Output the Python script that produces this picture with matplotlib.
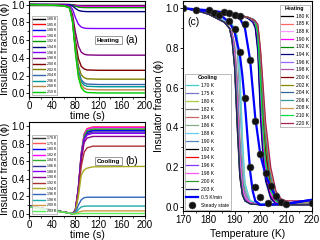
import matplotlib
matplotlib.use("Agg")
import matplotlib.pyplot as plt

plt.rcParams['font.family'] = ['Liberation Sans', 'DejaVu Sans']
plt.rcParams['axes.linewidth'] = 0.8

# ---------------- panel (a): heating, phi vs time ----------------
heat_t = [0, 30, 60, 70, 75, 80, 85, 90, 95, 100, 120, 200]
heat_labels = ['180 K', '185 K', '188 K', '190 K', '192 K', '194 K', '196 K',
               '198 K', '200 K', '202 K', '204 K', '206 K', '208 K', '210 K']
heat_phi = [
    [1.0, 1.0, 1.0, 1.0, 1.0, 1.0, 1.0, 1.0, 1.0, 1.0, 1.0, 1.0],
    [1.0, 1.0, 1.0, .999, .997, .992, .988, .986, .985, .985, .985, .985],
    [1.0, 1.0, 1.0, .999, .996, .989, .984, .981, .98, .98, .98, .98],
    [1.0, 1.0, 1.0, .999, .995, .986, .98, .977, .976, .975, .975, .975],
    [1.0, 1.0, .999, .999, .993, .981, .971, .967, .966, .965, .965, .965],
    [1.0, 1.0, .999, .997, .984, .956, .934, .925, .922, .92, .92, .92],
    [1.0, .999, .996, .989, .946, .852, .779, .746, .735, .731, .73, .73],
    [1.0, .997, .991, .977, .886, .687, .533, .464, .441, .433, .43, .43],
    [1.0, .996, .989, .970, .852, .593, .393, .304, .275, .264, .26, .26],
    [1.0, .996, .987, .966, .832, .538, .311, .210, .177, .164, .16, .16],
    [1.0, .996, .987, .964, .82, .505, .262, .154, .118, .105, .1, .1],
    [1.0, .995, .986, .963, .815, .491, .242, .131, .094, .080, .075, .075],
    [1.0, .995, .986, .962, .808, .472, .213, .098, .059, .045, .04, .04],
    [1.0, .995, .985, .960, .801, .453, .184, .065, .025, .01, .005, .005],
]
heat_colors = ['#000000', '#ff0000', '#0000ff', '#ff00ff', '#009900', '#000080',
               '#8000ff', '#800080', '#800000', '#808000', '#3366aa', '#009999',
               '#c08040', '#00cc00']

# ---------------- panel (b): cooling, phi vs time ----------------
cool_t = [0, 40, 70, 75, 80, 85, 90, 95, 100, 110, 200]
cool_labels = ['170 K', '175 K', '180 K', '182 K', '184 K', '186 K', '188 K',
               '190 K', '192 K', '194 K', '196 K', '198 K', '200 K', '203 K']
cool_phi = [
    [.09, .045, .01, 0, .048, .287, .669, .879, .936, .955, .955],
    [.09, .045, .01, 0, .05, .297, .693, .911, .970, .99, .99],
    [.09, .045, .01, 0, .047, .284, .662, .869, .926, .945, .945],
    [.09, .045, .01, 0, .049, .294, .686, .902, .960, .98, .98],
    [.09, .045, .01, 0, .048, .29, .676, .888, .946, .965, .965],
    [.09, .045, .01, 0, .047, .279, .651, .856, .911, .93, .93],
    [.09, .045, .01, 0, .046, .275, .641, .842, .897, .915, .915],
    [.09, .045, .01, 0, .044, .264, .616, .81, .862, .88, .88],
    [.088, .044, .01, 0, .04, .23, .54, .70, .75, .77, .77],
    [.085, .043, .01, 0, .03, .2, .44, .50, .52, .535, .54],
    [.085, .043, .01, 0, .02, .1, .16, .185, .19, .19, .19],
    [.085, .043, .01, 0, .01, .05, .08, .088, .09, .09, .09],
    [.08, .04, .01, 0, .005, .02, .03, .035, .035, .035, .035],
    [.08, .04, .008, 0, 0, .003, .005, .005, .005, .005, .005],
]
cool_colors = ['#333333', '#ff5555', '#0000ff', '#ff00ff', '#33aa33', '#333399',
               '#8800ff', '#880088', '#aa3333', '#aaaa22', '#3366bb', '#22aaaa',
               '#cc9944', '#55ee55']

# ---------------- panel (c): phi vs temperature ----------------
c_heat_T = [170, 180, 190, 195, 197, 198, 199, 200, 201, 202, 204, 206, 208, 210, 220]
c_heat_labels = ['180 K', '185 K', '188 K', '190 K', '192 K', '194 K', '196 K', '198 K',
                 '200 K', '202 K', '204 K', '206 K', '208 K', '210 K', '220 K']
c_heat_phi = [
    [1.0, .985, .97, .955, .94, .91, .8, .5, .28, .15, .05, .02, .01, .01, .01],
    [1.0, .985, .97, .955, .94, .92, .84, .58, .34, .2, .07, .03, .015, .01, .01],
    [1.0, .985, .97, .955, .945, .93, .86, .62, .38, .22, .08, .03, .015, .015, .015],
    [1.0, .985, .97, .955, .94, .92, .82, .55, .3, .17, .06, .02, .01, .01, .01],
    [1.0, .985, .97, .955, .945, .93, .88, .66, .42, .25, .09, .035, .015, .01, .01],
    [1.0, .985, .97, .95, .93, .9, .78, .45, .25, .13, .04, .015, .01, .01, .01],
    [1.0, .985, .97, .955, .945, .93, .87, .64, .4, .23, .08, .03, .015, .01, .01],
    [1.0, .985, .97, .955, .945, .935, .9, .72, .48, .3, .11, .04, .02, .015, .015],
    [1.0, .985, .97, .955, .945, .935, .89, .7, .46, .28, .1, .04, .015, .01, .01],
    [1.0, .985, .97, .955, .945, .935, .9, .74, .52, .33, .13, .05, .02, .01, .01],
    [1.0, .985, .97, .955, .945, .935, .91, .77, .55, .36, .15, .06, .025, .02, .02],
    [1.0, .985, .97, .955, .945, .935, .91, .78, .57, .38, .16, .07, .03, .02, .02],
    [1.0, .985, .97, .955, .945, .935, .91, .79, .6, .4, .18, .07, .03, .02, .02],
    [1.0, .985, .97, .955, .945, .93, .87, .63, .39, .22, .08, .03, .015, .01, .01],
    [1.0, .985, .97, .955, .945, .935, .92, .8, .62, .43, .2, .08, .04, .03, .03],
]
c_heat_colors = ['#000000', '#ff6666', '#ff99ff', '#ff00ff', '#008800', '#000080',
                 '#9966ff', '#aa55aa', '#880000', '#888800', '#336699', '#339999',
                 '#cc9955', '#00dd44', '#aa2255']

c_cool_T = [220, 210, 200, 196, 194, 193, 192, 191, 190, 189, 188, 186, 183, 180, 175, 170]
c_cool_labels = ['170 K', '175 K', '180 K', '182 K', '184 K', '186 K', '188 K',
                 '190 K', '192 K', '194 K', '196 K', '198 K', '200 K', '203 K']
c_cool_phi = [
    [.01, .01, .015, .03, .12, .35, .7, .86, .9, .92, .93, .94, .955, .97, .99, 1.0],
    [.01, .01, .015, .025, .08, .25, .55, .8, .88, .91, .92, .94, .955, .97, .99, 1.0],
    [.01, .01, .015, .03, .1, .3, .62, .83, .89, .91, .925, .94, .955, .97, .99, 1.0],
    [.01, .01, .01, .02, .05, .12, .3, .6, .8, .87, .9, .93, .95, .97, .99, 1.0],
    [.01, .01, .01, .02, .06, .15, .35, .65, .82, .88, .9, .93, .95, .97, .99, 1.0],
    [.01, .01, .01, .02, .05, .12, .28, .55, .78, .86, .9, .93, .95, .97, .99, 1.0],
    [.01, .01, .015, .03, .11, .32, .65, .84, .89, .91, .925, .94, .955, .97, .99, 1.0],
    [.01, .01, .01, .02, .06, .14, .33, .62, .8, .87, .9, .93, .95, .97, .99, 1.0],
    [.01, .01, .01, .015, .03, .06, .15, .4, .7, .84, .9, .93, .95, .97, .99, 1.0],
    [.01, .01, .01, .02, .04, .09, .22, .5, .75, .85, .9, .93, .95, .97, .99, 1.0],
    [.01, .01, .01, .02, .04, .08, .2, .47, .73, .85, .9, .93, .95, .97, .99, 1.0],
    [.01, .01, .01, .02, .05, .1, .25, .52, .76, .86, .9, .93, .95, .97, .99, 1.0],
    [.01, .01, .01, .015, .03, .07, .18, .45, .72, .84, .9, .93, .95, .97, .99, 1.0],
    [.01, .01, .01, .015, .03, .06, .16, .42, .7, .84, .9, .93, .95, .97, .99, 1.0],
]
c_cool_colors = ['#44cccc', '#7777cc', '#aacc44', '#777777', '#cc6666', '#88aa88',
                 '#66ccee', '#5588bb', '#000000', '#ff0000', '#8833ff', '#ff55ee',
                 '#339933', '#222266']

# 0.5 K/min sweep (heating branch then cooling branch)
sweep_heat_T = [170, 180, 188, 192, 194, 196, 198, 200, 202, 204, 206, 208, 210, 215, 220]
sweep_heat_phi = [1.0, .99, .975, .95, .9, .74, .45, .26, .16, .1, .05, .02, .015, .025, .035]
sweep_cool_T = [220, 210, 200, 198, 197, 196, 195, 194, 193, 192, 190, 188, 185, 180, 170]
sweep_cool_phi = [.035, .015, .01, .03, .08, .18, .35, .52, .66, .77, .88, .93, .96, .985, 1.0]

# steady-state points
ss_T = [170, 175, 180, 182, 184, 186, 188, 190, 192, 194, 196, 198, 200, 202, 204, 206,
        208, 210, 220, 203, 200, 198, 196, 194, 192, 190, 188]
ss_phi = [1.0, .99, .99, .978, .966, .983, .978, .966, .961, .92, .74, .43, .265, .168,
          .104, .054, .022, .012, .017, .017, .05, .10, .2, .548, .78, .894, .936]

fig = plt.figure(figsize=(3.2, 2.4), dpi=100)
ax_a = fig.add_axes([0.091, 0.596, 0.362, 0.4])
ax_b = fig.add_axes([0.091, 0.100, 0.362, 0.392])
ax_c = fig.add_axes([0.572, 0.121, 0.403, 0.875])

for phi, c, lab in zip(heat_phi, heat_colors, heat_labels):
    ax_a.plot(heat_t, phi, color=c, lw=1.0, label=lab)
for phi, c, lab in zip(cool_phi, cool_colors, cool_labels):
    ax_b.plot(cool_t, phi, color=c, lw=1.0, label=lab)

for ax, ylim, name, tag in [(ax_a, (-0.04, 1.04), 'Heating', '(a)'),
                            (ax_b, (-0.023, 1.045), 'Cooling', '(b)')]:
    ax.set_xlim(0, 200)
    ax.set_ylim(*ylim)
    ax.set_xticks([0, 40, 80, 120, 160, 200])
    ax.set_xticks(range(20, 200, 40), minor=True)
    ax.set_yticks([0.0, 0.2, 0.4, 0.6, 0.8, 1.0])
    ax.set_yticks([0.1, 0.3, 0.5, 0.7, 0.9], minor=True)
    ax.yaxis.set_major_formatter(matplotlib.ticker.FormatStrFormatter('%.1f'))
    ax.tick_params(labelsize=7, length=2, width=0.6, pad=1)
    ax.tick_params(which='minor', length=1.2, width=0.5)
    ax.set_xlabel('time (s)', fontsize=7.5, labelpad=0)
    ax.set_ylabel('Insulator fraction (ϕ)', fontsize=7.5, labelpad=1)
    ax.text(137, 0.6, name, fontsize=4.5, fontweight='bold', ha='center', va='center',
            bbox=dict(boxstyle='square,pad=0.3', fc='white', ec='#888888', lw=0.6))
    ax.text(178, 0.6, tag, fontsize=7.5, ha='center', va='center')
    leg = ax.legend(loc='lower left', bbox_to_anchor=(0.005, 0.0), fontsize=2.6,
                    frameon=True, fancybox=False, edgecolor='#888888', handlelength=3.5,
                    handletextpad=0.5, labelspacing=0.45, borderpad=0.3)
    leg.get_frame().set_linewidth(0.5)

# panel (c)
hh = []
for phi, c, lab in zip(c_heat_phi, c_heat_colors, c_heat_labels):
    hh += ax_c.plot(c_heat_T, phi, color=c, lw=0.9, label=lab)
hc = []
for phi, c, lab in zip(c_cool_phi, c_cool_colors, c_cool_labels):
    hc += ax_c.plot(c_cool_T, phi, color=c, lw=0.9, label=lab)
hs = ax_c.plot(sweep_heat_T, sweep_heat_phi, color='#0000ff', lw=1.6, label='0.5 K/min')
ax_c.plot(sweep_cool_T, sweep_cool_phi, color='#0000ff', lw=1.6)
hp = ax_c.plot(ss_T, ss_phi, ls='none', marker='o', ms=5, mfc='#111111', mec='#444444',
               mew=0.4, label='Steady state', zorder=5)

ax_c.set_xlim(170, 220)
ax_c.set_ylim(-0.021, 1.037)
ax_c.set_xticks(range(170, 221, 10))
ax_c.set_xticks(range(175, 220, 10), minor=True)
ax_c.set_yticks([0.0, 0.2, 0.4, 0.6, 0.8, 1.0])
ax_c.set_yticks([0.1, 0.3, 0.5, 0.7, 0.9], minor=True)
ax_c.yaxis.set_major_formatter(matplotlib.ticker.FormatStrFormatter('%.1f'))
ax_c.tick_params(labelsize=7, length=2, width=0.6, pad=1)
ax_c.tick_params(which='minor', length=1.2, width=0.5)
ax_c.set_xlabel('Temperature (K)', fontsize=7.5, labelpad=3)
ax_c.set_ylabel('Insulator fraction (ϕ)', fontsize=7.5, labelpad=1)
ax_c.text(171.5, 0.93, '(c)', fontsize=7.5, ha='left', va='center')

leg_h = ax_c.legend(handles=hh, title='Heating', loc='upper right', fontsize=3.6,
                    title_fontproperties={'size': 3.8, 'weight': 'bold'},
                    frameon=True, fancybox=False, edgecolor='#888888', handlelength=2.4,
                    handletextpad=0.5, labelspacing=0.53, borderpad=0.3,
                    bbox_to_anchor=(1.005, 0.995))
leg_h.get_frame().set_linewidth(0.5)
ax_c.add_artist(leg_h)
leg_c = ax_c.legend(handles=hc + hs + hp, title='Cooling', loc='lower left', fontsize=3.6,
                    title_fontproperties={'size': 3.8, 'weight': 'bold'},
                    frameon=True, fancybox=False, edgecolor='#888888', handlelength=2.4,
                    handletextpad=0.5, labelspacing=0.6, borderpad=0.3,
                    bbox_to_anchor=(-0.005, -0.005))
leg_c.get_frame().set_linewidth(0.5)

fig.savefig('out.png', dpi=100)
